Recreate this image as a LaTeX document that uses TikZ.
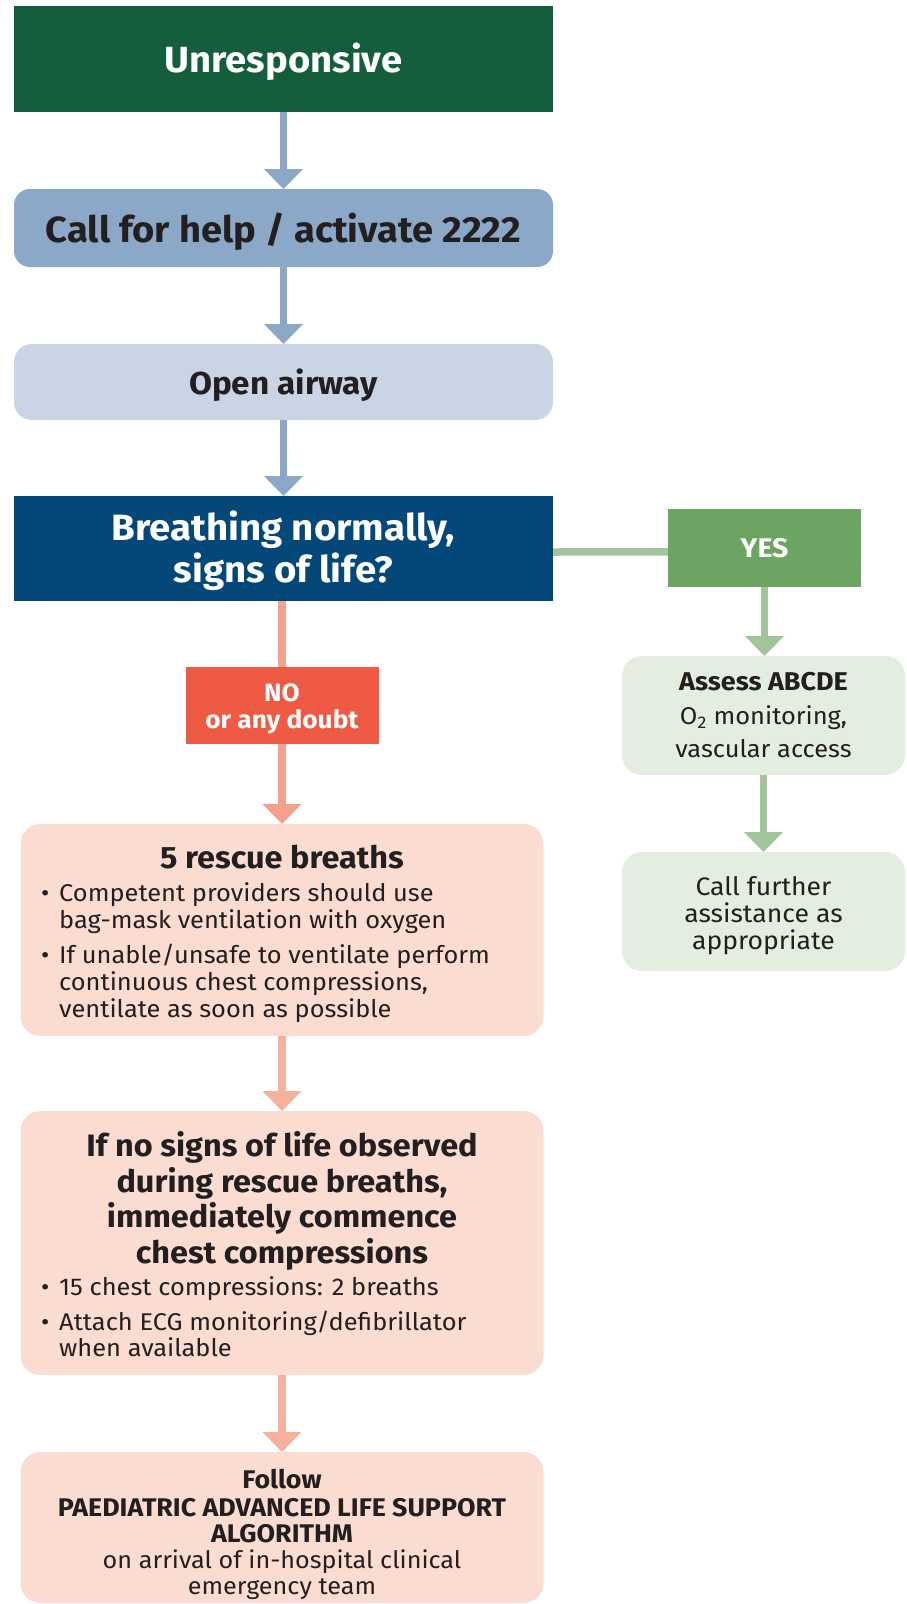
\documentclass[tikz,border=0pt]{standalone}
\usepackage{fontspec}
\setmainfont{Fira Sans}[FakeStretch=1.05]
\usetikzlibrary{arrows.meta}
\definecolor{cDarkGreen}{HTML}{145E3C}
\definecolor{cBlueA}{HTML}{8BA8C8}
\definecolor{cBlueB}{HTML}{C9D5E5}
\definecolor{cNavy}{HTML}{04487A}
\definecolor{cYes}{HTML}{6CA462}
\definecolor{cGreenLine}{HTML}{A2C49A}
\definecolor{cPaleGreen}{HTML}{E3EEE0}
\definecolor{cNo}{HTML}{EE5A44}
\definecolor{cSalmonA}{HTML}{F4A28B}
\definecolor{cSalmonB}{HTML}{F6B19D}
\definecolor{cPink}{HTML}{FADCD1}
\definecolor{cText}{HTML}{231F20}
\newcommand{\fsz}[2]{\fontsize{#1}{#2}\selectfont}
\begin{document}
\begin{tikzpicture}[x=1pt,y=-1pt,
  box/.style={draw=none, inner sep=0pt, outer sep=0pt},
  lbl/.style={anchor=base, inner sep=0pt, outer sep=0pt, text=cText},
  wlbl/.style={lbl, text=white},
  conn/.style={line width=7.5pt},
  arrowto/.style={conn, -{Triangle[width=38pt,length=20pt]}},
]
\useasboundingbox (0,0) rectangle (906,1604);

% main column boxes
\node[box, fill=cDarkGreen, minimum width=539pt, minimum height=106pt] (unresp) at (283.5,59) {};
\node[box, fill=cBlueA, rounded corners=16pt, minimum width=539pt, minimum height=78pt] (call) at (283.5,228) {};
\node[box, fill=cBlueB, rounded corners=18pt, minimum width=539pt, minimum height=76pt] (open) at (283.5,382) {};
\node[box, fill=cNavy, minimum width=539pt, minimum height=105pt] (breath) at (283.5,548.5) {};

% yes branch
\node[box, fill=cYes, minimum width=193pt, minimum height=78pt] (yes) at (764.5,548.3) {};
\node[box, fill=cPaleGreen, rounded corners=20pt, minimum width=283pt, minimum height=119pt] (assess) at (763.5,715.5) {};
\node[box, fill=cPaleGreen, rounded corners=20pt, minimum width=283pt, minimum height=119pt] (further) at (763.5,911.5) {};

% no branch
\node[box, fill=cNo, minimum width=193pt, minimum height=77pt] (no) at (282,705.5) {};
\node[box, fill=cPink, rounded corners=20pt, minimum width=523pt, minimum height=212pt] (rescue) at (282,930) {};
\node[box, fill=cPink, rounded corners=20pt, minimum width=523pt, minimum height=264pt] (ifno) at (282,1243) {};
\node[box, fill=cPink, rounded corners=20pt, minimum width=523pt, minimum height=151pt] (follow) at (282,1527.5) {};

% labels
\node[wlbl, font=\bfseries\fsz{36.4}{40}] (tUnresp) at (283.5,72.5) {Unresponsive};
\node[lbl, font=\bfseries\fsz{36.3}{40}] (tCall) at (283.5,242.3) {Call for help / activate 2222};
\node[lbl, font=\bfseries\fsz{31.7}{34}] (tOpen) at (283.5,394) {Open airway};
\node[wlbl, font=\bfseries\fsz{36.6}{41.7}] (tBreath) at (283.5,540)
  {\begin{tabular}[t]{@{}c@{}}Breathing normally,\\ signs of life?\end{tabular}};
\node[wlbl, font=\bfseries\fsz{27}{25}] (tYes) at (764.5,557.3) {YES};
\node[wlbl, font=\bfseries\fsz{25}{25}] (tNo) at (282,701.7)
  {\begin{tabular}[t]{@{}c@{}}NO\\ or any doubt\end{tabular}};
\node[lbl, font=\fsz{24.2}{33.6}] (tAssess) at (763.5,690.7)
  {\begin{tabular}[t]{@{}c@{}}\fontsize{25.7}{33.6}\selectfont\bfseries Assess ABCDE\\ O\textsubscript{2} monitoring,\\ vascular access\end{tabular}};
\node[lbl, font=\fsz{25.3}{24.5}] (tFurther) at (763.5,895)
  {\begin{tabular}[t]{@{}c@{}}Call further\\ assistance as\\ appropriate\end{tabular}};

\node[lbl, font=\bfseries\fsz{30.9}{34}] (tRescue) at (282,868) {5 rescue breaths};
\node[lbl, anchor=base west, font=\fsz{24.2}{26.6}] (tRescueList) at (41,901.7)
  {\begin{tabular}[t]{@{}l@{\hspace{10pt}}l@{}}
   \textbullet & Competent providers should use\\
   & bag-mask ventilation with oxygen\\[7.4pt]
   \textbullet & If unable/unsafe to ventilate perform\\
   & continuous chest compressions,\\
   & ventilate as soon as possible
   \end{tabular}};

\node[lbl, font=\bfseries\fsz{30.9}{34.7}] (tIfno) at (282,1156.7)
  {\begin{tabular}[t]{@{}c@{}}If no signs of life observed\\ during rescue breaths,\\ immediately commence\\ chest compressions\end{tabular}};
\node[lbl, anchor=base west, font=\fsz{24.2}{26.6}] (tIfnoList) at (41,1295)
  {\begin{tabular}[t]{@{}l@{\hspace{10pt}}l@{}}
   \textbullet & 15 chest compressions: 2 breaths\\[7.6pt]
   \textbullet & Attach ECG monitoring/defibrillator\\
   & when available
   \end{tabular}};

\node[lbl, font=\fsz{24}{25.5}] (tFollow) at (282,1488.3)
  {\begin{tabular}[t]{@{}c@{}}\fontsize{25.5}{25.5}\selectfont\bfseries Follow\\[2.5pt] \fontsize{25.5}{25.5}\selectfont\bfseries PAEDIATRIC ADVANCED LIFE SUPPORT\\ \fontsize{25.5}{25.5}\selectfont\bfseries ALGORITHM\\ on arrival of in-hospital clinical\\ emergency team\end{tabular}};

% connectors
\draw[arrowto, cBlueA] (unresp.south) -- (call.north);
\draw[arrowto, cBlueA] (call.south) -- (open.north);
\draw[arrowto, cBlueA] (open.south) -- (breath.north);
\draw[conn, cGreenLine] ([yshift=-3.5pt]breath.east) -- ([yshift=-3.5pt]yes.west);
\draw[arrowto, cGreenLine] (yes.south) -- (yes.south |- assess.north);
\draw[arrowto, cGreenLine] (assess.south) -- (further.north);
\draw[conn, cSalmonA] (breath.south -| no.north) -- (no.north);
\draw[arrowto, cSalmonA] (no.south) -- (rescue.north);
\draw[arrowto, cSalmonB] (rescue.south) -- (ifno.north);
\draw[arrowto, cSalmonB] (ifno.south) -- (follow.north);
\end{tikzpicture}
\end{document}
